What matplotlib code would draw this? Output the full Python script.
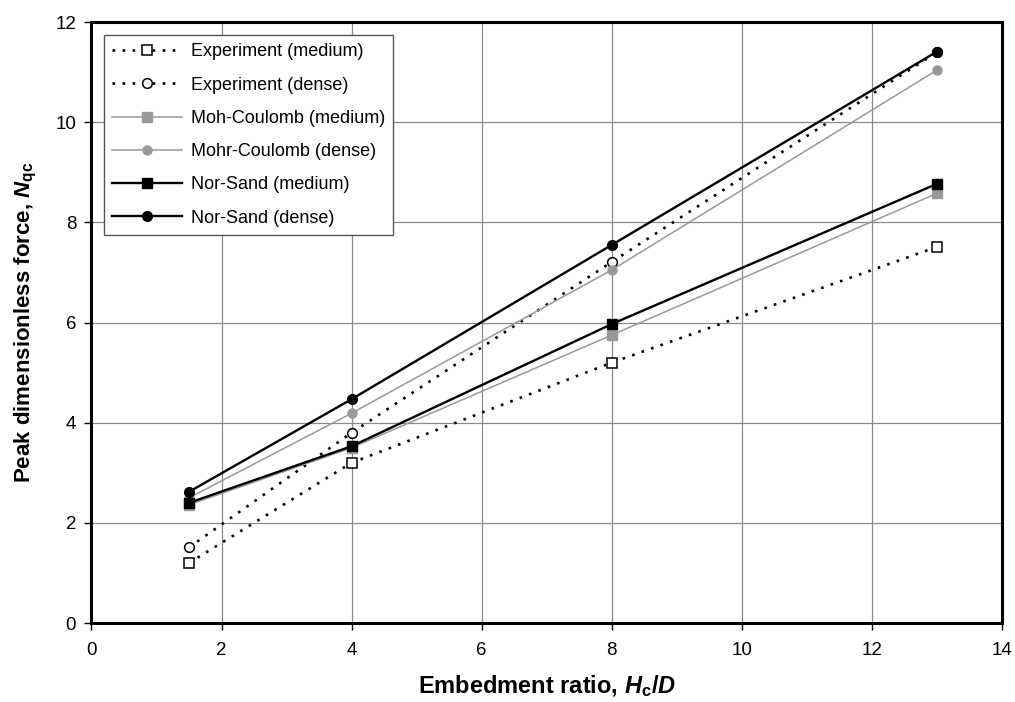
import matplotlib
matplotlib.use("Agg")
import matplotlib.pyplot as plt

plt.rcParams['font.family'] = ['Liberation Sans', 'DejaVu Sans']
plt.rcParams['mathtext.fontset'] = 'custom'
plt.rcParams['mathtext.rm'] = 'Liberation Sans:bold'
plt.rcParams['mathtext.bf'] = 'Liberation Sans:bold'
plt.rcParams['mathtext.it'] = 'Liberation Sans:bold:italic'

# embedment ratios tested
ratio = [1.5, 4, 8, 13]

exp_medium = [1.2, 3.2, 5.2, 7.51]
exp_dense = [1.51, 3.8, 7.21, 11.4]
mc_medium = [2.36, 3.5, 5.75, 8.58]
mc_dense = [2.5, 4.19, 7.05, 11.04]
ns_medium = [2.4, 3.53, 5.97, 8.77]
ns_dense = [2.62, 4.47, 7.55, 11.41]

fig = plt.figure(figsize=(10.15, 7.02), dpi=100)
ax = fig.add_axes([0.0901, 0.1125, 0.897, 0.856])

grey = '#999999'
dots = (0, (1, 2.8))
ax.plot(ratio, exp_medium, color='black', ls=dots, lw=1.9, marker='s',
        ms=7, mfc='white', mec='black', mew=1.1, label='Experiment (medium)')
ax.plot(ratio, exp_dense, color='black', ls=dots, lw=1.9, marker='o',
        ms=7, mfc='white', mec='black', mew=1.1, label='Experiment (dense)')
ax.plot(ratio, mc_medium, color=grey, lw=1.1, marker='s', ms=6.5,
        mfc=grey, mec=grey, label='Moh-Coulomb (medium)')
ax.plot(ratio, mc_dense, color=grey, lw=1.1, marker='o', ms=6.5,
        mfc=grey, mec=grey, label='Mohr-Coulomb (dense)')
ax.plot(ratio, ns_medium, color='black', lw=1.7, marker='s', ms=7,
        label='Nor-Sand (medium)')
ax.plot(ratio, ns_dense, color='black', lw=1.7, marker='o', ms=7,
        label='Nor-Sand (dense)')

ax.set_xlim(0, 14)
ax.set_ylim(0, 12)
ax.set_xticks(range(0, 15, 2))
ax.set_yticks(range(0, 13, 2))
ax.grid(True, color='#8a8a8a', lw=0.9)
ax.set_axisbelow(True)
ax.tick_params(direction='out', length=5, width=1, labelsize=13.5)
ax.tick_params(axis='x', pad=9)
ax.tick_params(axis='y', pad=6)
for s in ax.spines.values():
    s.set_linewidth(2.2)

ax.set_xlabel(r'Embedment ratio, $\mathit{H}_{\mathrm{c}}\mathit{/D}$',
              fontsize=17, fontweight='bold', labelpad=10)
ax.set_ylabel(r'Peak dimensionless force, $\mathit{N}_{\mathrm{qc}}$',
              fontsize=16, fontweight='bold', labelpad=12)

leg = ax.legend(loc='upper left', bbox_to_anchor=(0.0137, 0.978), fontsize=13,
                fancybox=False, edgecolor='#555555', framealpha=1,
                handlelength=3.9, labelspacing=0.9, borderpad=0.45,
                handletextpad=0.45, borderaxespad=0)
leg.get_frame().set_linewidth(1.0)

fig.savefig('out.png', dpi=100)
